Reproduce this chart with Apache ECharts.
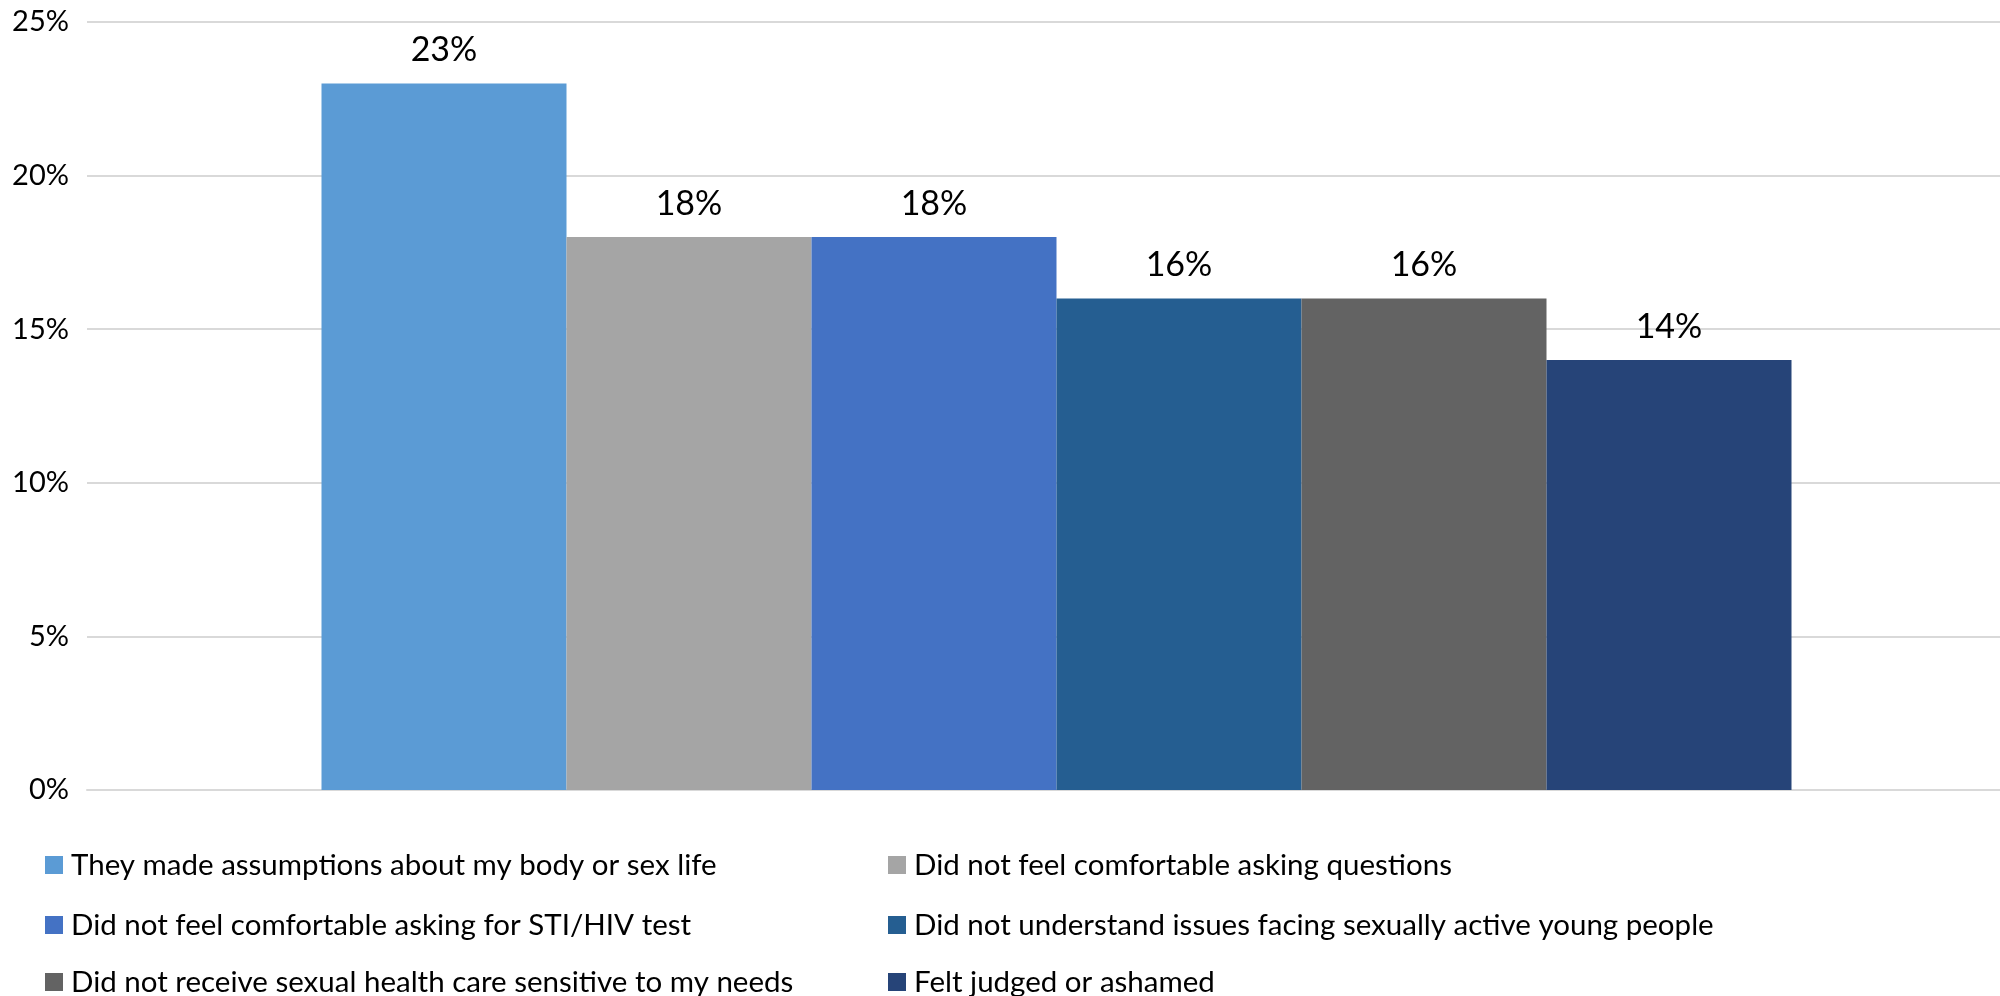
<!DOCTYPE html>
<html>
<head>
<meta charset="utf-8">
<script src="https://cdn.jsdelivr.net/npm/echarts@6/dist/echarts.min.js"></script>
<style>
  html, body { margin: 0; padding: 0; background: #fff; }
  #chart { width: 2000px; height: 996px; }
</style>
</head>
<body>
<div id="chart"></div>
<script>
// Reasons reported, share of respondents (%)
const reasons = [
  'They made assumptions about my body or sex life',
  'Did not feel comfortable asking questions',
  'Did not feel comfortable asking for STI/HIV test',
  'Did not understand issues facing sexually active young people',
  'Did not receive sexual health care sensitive to my needs',
  'Felt judged or ashamed'
];
const shares = [23, 18, 18, 16, 16, 14];
const colors = ['#5B9BD5', '#A5A5A5', '#4472C4', '#255E91', '#636363', '#264478'];
const yTicks = { min: 0, max: 25, interval: 5 };

const FONT = 'Lato';

const series = reasons.map((name, i) => ({
  name: name,
  type: 'bar',
  xAxisIndex: 1,
  yAxisIndex: 1,
  data: [shares[i]],
  barWidth: 245,
  barGap: '0%',
  itemStyle: { color: colors[i] },
  label: {
    show: true,
    position: 'top',
    distance: 16,
    formatter: '{c}%',
    color: '#000',
    fontFamily: FONT,
    fontSize: 34
  }
}));

// Legend: two columns, three rows, one legend per entry
const legendCols = [40, 883];
const legendRows = [845, 905, 962];
const legends = reasons.map((name, i) => ({
  left: legendCols[i % 2],
  top: legendRows[Math.floor(i / 2)],
  data: [name],
  itemWidth: 18,
  itemHeight: 18,
  icon: 'rect',
  selectedMode: false,
  textStyle: { fontFamily: FONT, fontSize: 29.5, color: '#000', padding: [0, 0, 0, 3] }
}));

const yBase = {
  type: 'value',
  min: yTicks.min,
  max: yTicks.max,
  interval: yTicks.interval,
  axisLine: { show: false },
  axisTick: { show: false }
};

const chart = echarts.init(document.getElementById('chart'));
chart.setOption({
  animation: false,
  backgroundColor: '#fff',
  grid: [
    { left: 87, right: 0, top: 22, bottom: 206 },
    { left: 113, right: 0, top: 22, bottom: 206 }
  ],
  xAxis: [
    {
      type: 'category', gridIndex: 0, data: [''],
      axisLine: { show: true, lineStyle: { color: '#D9D9D9', width: 2 } },
      axisTick: { show: false }, axisLabel: { show: false }
    },
    {
      type: 'category', gridIndex: 1, data: [''],
      axisLine: { show: false }, axisTick: { show: false }, axisLabel: { show: false }
    }
  ],
  yAxis: [
    Object.assign({}, yBase, {
      gridIndex: 0,
      axisLabel: { formatter: '{value}%', color: '#000', fontFamily: FONT, fontSize: 29, margin: 18 },
      splitLine: { lineStyle: { color: '#D9D9D9', width: 2 } }
    }),
    Object.assign({}, yBase, {
      gridIndex: 1,
      axisLabel: { show: false },
      splitLine: { show: false }
    })
  ],
  legend: legends,
  series: series
});
</script>
</body>
</html>
